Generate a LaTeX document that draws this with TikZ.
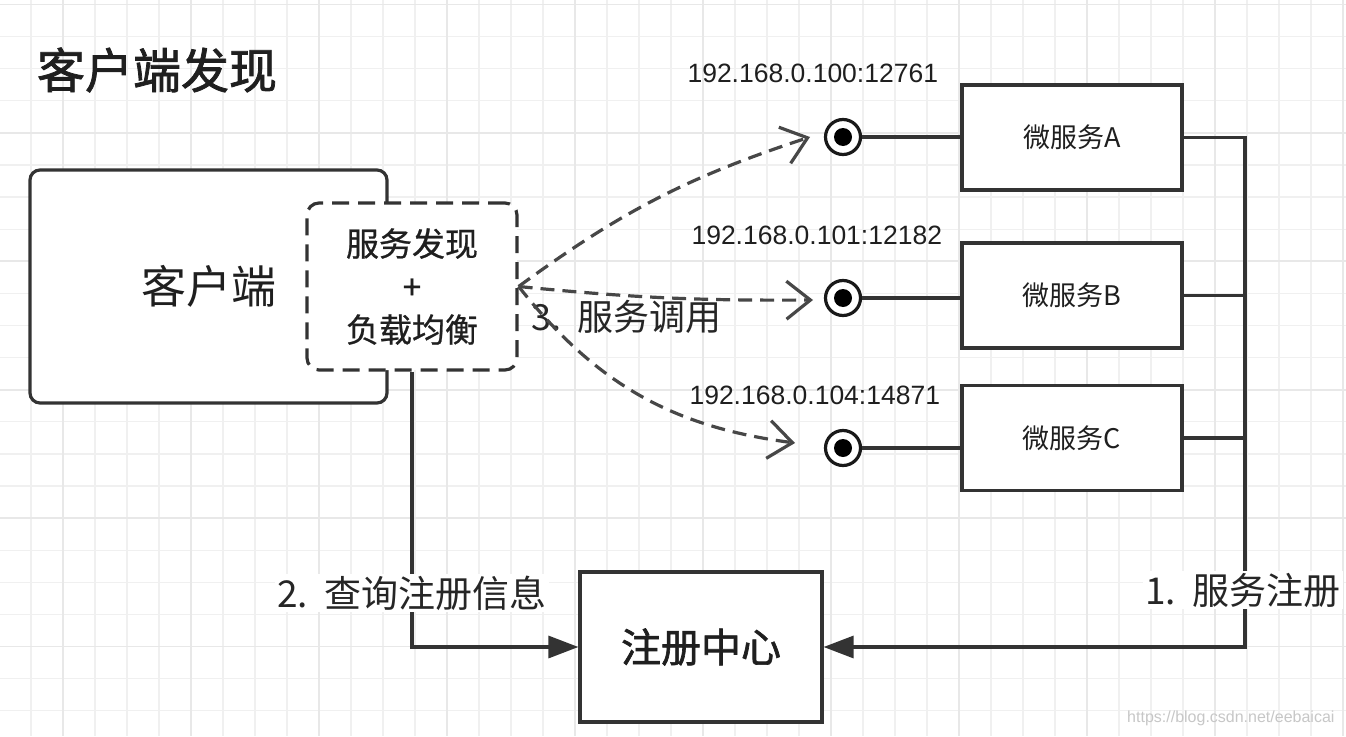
\documentclass[tikz,border=0pt]{standalone}
\usepackage{fontspec}
\setmainfont{Noto Sans CJK SC}
\newfontfamily\semibold[FakeBold=1.6]{Noto Sans CJK SC}
\newfontfamily\medium[FakeBold=0.7]{Noto Sans CJK SC}
\newfontfamily\ipfont{Liberation Sans}
\usepackage{tikz}
\usetikzlibrary{positioning,calc,arrows.meta}

\begin{document}
\begin{tikzpicture}[x=1pt, y=-1pt,
    box/.style={draw=black!80, line width=3.2pt, fill=white, inner sep=0pt, text=black!88},
    link/.style={draw=black!80, line width=3.2pt},
    call/.style={draw=black!72, line width=3.2pt, dash pattern=on 14pt off 8pt,
        -{Straight Barb[length=24pt, width=38pt]}},
    lbl/.style={fill=white, inner sep=2pt, text=black!85, font=\fontsize{37}{42}\selectfont},
    ip/.style={anchor=west, text=black!88, font=\ipfont\fontsize{26.5}{30}\selectfont}]
    \useasboundingbox (0,0) rectangle (1346,736);
    \fill[white] (0,0) rectangle (1346,736);

    % grid
    \begin{scope}
    \clip (0,0) rectangle (1346,736);
    \foreach \k in {0,...,41} \draw[black!6, line width=1.3pt] (31+32*\k, 0) -- (31+32*\k, 736);
    \foreach \k in {0,...,22} \draw[black!6, line width=1.3pt] (0, 4.5+32.1*\k) -- (1346, 4.5+32.1*\k);
    \foreach \k in {0,...,10} \draw[black!9, line width=1.7pt] (63+128*\k, 0) -- (63+128*\k, 736);
    \foreach \k in {0,...,5} \draw[black!9, line width=1.7pt] (0, 4.5+128.4*\k) -- (1346, 4.5+128.4*\k);
    \end{scope}

    \node[font=\semibold\fontsize{48}{56}\selectfont, text=black!88] (title) at (157, 70) {客户端发现};

    % client
    \node[box, rounded corners=10pt, minimum width=357pt, minimum height=233pt,
        font=\fontsize{45}{50}\selectfont] (client) at (208.5, 286.5) {客户端};
    \node[box, dash pattern=on 17pt off 9pt, rounded corners=12pt, minimum width=210pt,
        minimum height=167pt, align=center, font=\medium\fontsize{33}{43}\selectfont] (disc) at (412, 286.5)
        {服务发现\\+\\负载均衡};

    % micro services
    \foreach \n/\y/\c in {A/137.5/137, B/295.5/298, C/438/448} {
        \node[box, minimum width=220pt, minimum height=105pt, font=\fontsize{27}{32}\selectfont]
            (ms\n) at (1072, \y) {微服务\n};
        \node[circle, draw=black!90, line width=3.2pt, minimum size=35pt, inner sep=0pt, fill=white]
            (ep\n) at (843, \c) {};
        \fill[black] (ep\n) circle (9pt);
        \draw[link] (ep\n) -- (ep\n -| ms\n.west);
    }
    \node[ip] (ipA) at (684, 73) {192.168.0.100:12761};
    \node[ip] (ipB) at (688, 235) {192.168.0.101:12182};
    \node[ip] (ipC) at (686, 395) {192.168.0.104:14871};

    % registry
    \node[box, minimum width=242pt, minimum height=150pt, font=\semibold\fontsize{40}{46}\selectfont]
        (reg) at (701, 647) {注册中心};
    \coordinate (bus) at (1245, 647);
    \draw[link, -{Triangle[length=30pt, width=22pt]}] (msA.east) -| (bus) -- (reg.east);
    \draw[link] (msB.east) -- (msB.east -| bus);
    \draw[link] (msC.east) -- (msC.east -| bus);
    \draw[link, -{Triangle[length=30pt, width=22pt]}] (disc.south) |- (reg.west);
    \node[lbl] (query) at (412, 593) {2.\hspace{0.15em} 查询注册信息};
    \node[lbl] (register) at (1243, 590) {1.\hspace{0.15em} 服务注册};

    % calls
    \node[lbl, anchor=west, fill=none, font=\fontsize{36}{40}\selectfont] (invoke) at (529, 317)
        {3.\hspace{0.15em} 服务调用};
    \coordinate (inA) at (810, 137);
    \coordinate (inB) at (813, 300);
    \coordinate (inC) at (795, 443);
    \draw[call] (disc.east) to[bend left=9] (inA);
    \draw[call] (disc.east) to[bend right=3] (inB);
    \draw[call] (disc.east) to[bend right=22] (inC);

    \node[anchor=east, text=black!22, font=\ipfont\fontsize{16}{18}\selectfont] (mark) at (1338, 718)
        {https://blog.csdn.net/eebaicai};
\end{tikzpicture}
\end{document}
